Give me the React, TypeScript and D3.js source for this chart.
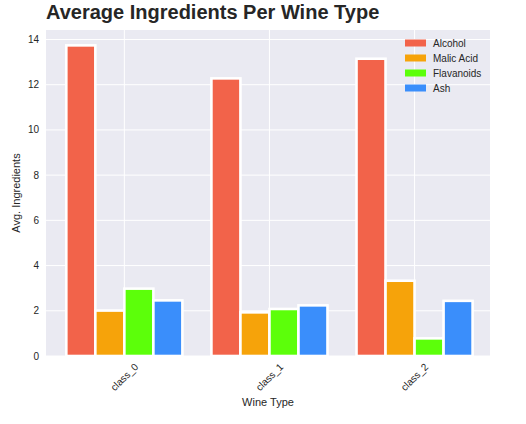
import { useEffect, useRef } from 'react';
import * as d3 from 'd3';

const wineTypes = ['class_0', 'class_1', 'class_2'];
const ingredients = ['Alcohol', 'Malic Acid', 'Flavanoids', 'Ash'];
const alcohol = [13.74, 12.28, 13.15];
const malicAcid = [2.01, 1.93, 3.33];
const flavanoids = [2.98, 2.08, 0.78];
const ash = [2.46, 2.24, 2.44];
const yTicks = [0, 2, 4, 6, 8, 10, 12, 14];
const colors = ['#F2634A', '#F6A30A', '#5CFF0A', '#3A8EFB'];

const FONT = '"Liberation Sans", Arial, sans-serif';

const App = () => {
  const ref = useRef<SVGSVGElement>(null);

  useEffect(() => {
    if (!ref.current) return;
    const width = 526;
    const height = 424;
    const left = 46;
    const right = 490;
    const top = 30;
    const bottom = 356;

    const svg = d3.select(ref.current);
    svg.selectAll('*').remove();

    const series = [alcohol, malicAcid, flavanoids, ash];

    // category positions as numeric values 0..2 so the plot edges match
    const x = d3.scaleLinear().domain([-0.54, 2.52]).range([left, right]);
    const y = d3.scaleLinear().domain([0, 14.42]).range([bottom, top]);
    const barW = 0.2;

    svg.append('rect')
      .attr('width', width).attr('height', height).attr('fill', '#fff');

    svg.append('rect')
      .attr('x', left).attr('y', top)
      .attr('width', right - left).attr('height', bottom - top)
      .attr('fill', '#EAEAF2');

    // grid
    svg.append('g').selectAll('line').data(yTicks).join('line')
      .attr('x1', left).attr('x2', right)
      .attr('y1', d => y(d)).attr('y2', d => y(d))
      .attr('stroke', '#fff').attr('stroke-width', 1);
    svg.append('g').selectAll('line').data(wineTypes).join('line')
      .attr('x1', (_, i) => x(i)).attr('x2', (_, i) => x(i))
      .attr('y1', top).attr('y2', bottom)
      .attr('stroke', '#fff').attr('stroke-width', 1);

    // bars
    series.forEach((vals, s) => {
      svg.append('g').selectAll('rect').data(vals).join('rect')
        .attr('x', (_, i) => x(i - 0.4 + s * barW))
        .attr('width', x(barW) - x(0))
        .attr('y', d => y(d))
        .attr('height', d => y(0) - y(d))
        .attr('fill', colors[s])
        .attr('stroke', '#fff')
        .attr('stroke-width', 2.6);
    });

    // y tick labels
    svg.append('g').selectAll('text').data(yTicks).join('text')
      .attr('x', 39).attr('y', d => y(d))
      .attr('dy', '0.35em')
      .attr('text-anchor', 'end')
      .style('font-family', FONT).style('font-size', '10px')
      .attr('fill', '#262626')
      .text(d => d);

    // x tick labels, rotated
    svg.append('g').selectAll('text').data(wineTypes).join('text')
      .attr('x', (_, i) => x(i)).attr('y', 377)
      .attr('dy', '0.35em')
      .attr('text-anchor', 'middle')
      .attr('transform', (_, i) => `rotate(-45, ${x(i)}, 377)`)
      .style('font-family', FONT).style('font-size', '10px')
      .attr('fill', '#262626')
      .text(d => d);

    // axis titles
    svg.append('text')
      .attr('x', (left + right) / 2).attr('y', 406)
      .attr('text-anchor', 'middle')
      .style('font-family', FONT).style('font-size', '11px')
      .attr('fill', '#262626')
      .text('Wine Type');
    svg.append('text')
      .attr('transform', `translate(20, ${(top + bottom) / 2}) rotate(-90)`)
      .attr('text-anchor', 'middle')
      .style('font-family', FONT).style('font-size', '11px')
      .attr('fill', '#262626')
      .text('Avg. Ingredients');

    // title
    svg.append('text')
      .attr('x', left).attr('y', 19)
      .style('font-family', FONT).style('font-size', '20px')
      .style('font-weight', 'bold')
      .attr('fill', '#262626')
      .text('Average Ingredients Per Wine Type');

    // legend
    const legend = svg.append('g').attr('transform', 'translate(405, 43)');
    const rows = legend.selectAll('g').data(ingredients).join('g')
      .attr('transform', (_, i) => `translate(0, ${i * 15})`);
    rows.append('rect')
      .attr('x', 0).attr('y', -3.5).attr('width', 21).attr('height', 7)
      .attr('fill', (_, i) => colors[i]);
    rows.append('text')
      .attr('x', 28).attr('y', 0).attr('dy', '0.35em')
      .style('font-family', FONT).style('font-size', '10px')
      .attr('fill', '#262626')
      .text(d => d);
  }, []);

  return (
    <svg
      ref={ref}
      width={526}
      height={424}
      style={{ display: 'block', position: 'absolute', left: 0, top: 0 }}
    />
  );
};

export default App;
